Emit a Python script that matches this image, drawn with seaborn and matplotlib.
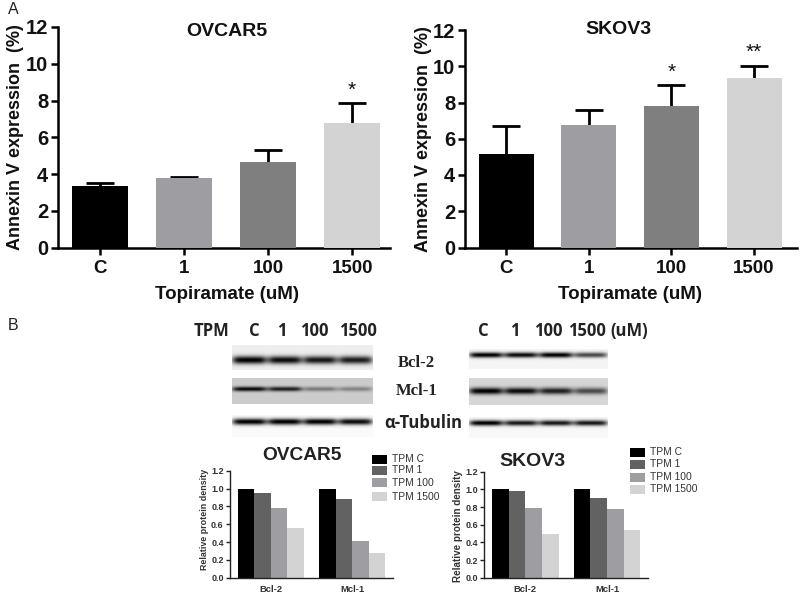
import numpy as np
import pandas as pd
import matplotlib
matplotlib.use("Agg")
import matplotlib.pyplot as plt
import seaborn as sns

sns.set_theme(style="ticks")
plt.rcParams['font.family'] = ['Liberation Sans', 'DejaVu Sans']

W, H = 800, 597

doses = ["C", "1", "100", "1500"]
bar_colors = ["#000000", "#9e9ea2", "#7f7f7f", "#d3d3d3"]
ovcar_annexin = [3.35, 3.77, 4.65, 6.78]
ovcar_err = [0.17, 0.09, 0.63, 1.06]
skov_annexin = [5.15, 6.76, 7.79, 9.35]
skov_err = [1.53, 0.84, 1.16, 0.68]
ovcar_stars = ["", "", "", "*"]
skov_stars = ["", "", "*", "**"]

groups = ["Bcl-2", "Mcl-1"]
tpm_labels = ["TPM C", "TPM 1", "TPM 100", "TPM 1500"]
tpm_colors = ["#000000", "#626262", "#9e9ea2", "#d3d3d3"]
ovcar_bcl = [1.0, 0.945, 0.785, 0.553]
ovcar_mcl = [1.0, 0.878, 0.415, 0.273]
skov_bcl = [1.0, 0.98, 0.785, 0.498]
skov_mcl = [1.0, 0.906, 0.774, 0.54]

# band strengths, lanes C, 1, 100, 1500
blot_left_bcl = [1.0, 0.95, 0.9, 0.88]
blot_left_mcl = [0.95, 0.85, 0.4, 0.35]
blot_left_tub = [1.0, 1.0, 1.0, 0.95]
blot_right_bcl = [1.0, 0.95, 1.0, 0.7]
blot_right_mcl = [1.0, 0.95, 0.85, 0.65]
blot_right_tub = [1.0, 0.9, 0.9, 0.9]


def box(x0, y0, x1, y1):
    return [x0 / W, 1 - y1 / H, (x1 - x0) / W, (y1 - y0) / H]


fig = plt.figure(figsize=(W / 100, H / 100), dpi=100, facecolor="white")


def big_panel(rect, title, vals, errs, stars, title_xy, xlim, ylabel_x, xlabel_x):
    ax = fig.add_axes(box(*rect))
    df = pd.DataFrame({"dose": doses, "v": vals})
    sns.barplot(data=df, x="dose", y="v", hue="dose", palette=bar_colors, legend=False,
                width=0.667, saturation=1, ax=ax, zorder=3, linewidth=0)
    cont = ax.errorbar(range(4), vals, yerr=[[0] * 4, errs], fmt="none", ecolor="black",
                       elinewidth=2, capsize=10, capthick=2, zorder=2)
    cont[1][0].set_visible(False)
    for i, s in enumerate(stars):
        if s:
            ax.text(i, vals[i] + errs[i] + 0.2, s, ha="center", va="bottom",
                    fontsize=15, color="#111111")
    ax.set_xlim(*xlim)
    ax.set_ylim(0, 12)
    ax.set_yticks(range(0, 13, 2))
    ax.set_xlabel("Topiramate (uM)", fontsize=13.5, fontweight="bold", color="#111111")
    ax.xaxis.set_label_coords((xlabel_x - rect[0]) / (rect[2] - rect[0]), -0.175)
    ax.set_ylabel("Annexin V expression  (%)", fontsize=13, fontweight="bold", color="#111111")
    ax.yaxis.set_label_coords((ylabel_x - rect[0]) / (rect[2] - rect[0]), 0.5)
    ax.tick_params(axis="x", width=1.8, length=5, labelsize=13.5, color="black",
                   labelcolor="#111111", pad=4)
    ax.tick_params(axis="y", width=1.8, length=5, labelsize=14.5, color="black",
                   labelcolor="#111111", pad=2)
    for lab in ax.get_xticklabels() + ax.get_yticklabels():
        lab.set_fontweight("bold")
    for sp in ("top", "right"):
        ax.spines[sp].set_visible(False)
    for sp in ("left", "bottom"):
        ax.spines[sp].set_linewidth(1.8)
        ax.spines[sp].set_color("black")
    fig.text(title_xy[0] / W, 1 - title_xy[1] / H, title, ha="center", va="center", fontsize=14,
             fontweight="bold", color="#111111")


big_panel((58, 27, 390, 247.5), "OVCAR5", ovcar_annexin, ovcar_err, ovcar_stars, (227, 31),
          (-0.5, 3.45), 24, 227)
big_panel((465, 30, 797, 247.5), "SKOV3", skov_annexin, skov_err, skov_stars, (618, 30),
          (-0.5, 3.52), 432, 630)


def small_panel(rect, title, bcl, mcl, title_xy, leg_x, leg_ys, label_y, label_size):
    ax = fig.add_axes(box(*rect))
    df = pd.DataFrame({
        "group": np.repeat(groups, 4),
        "tpm": tpm_labels * 2,
        "v": list(bcl) + list(mcl),
    })
    sns.barplot(data=df, x="group", y="v", hue="tpm", palette=tpm_colors, saturation=1,
                width=0.815, gap=0, ax=ax, legend=False, linewidth=0)
    ax.set_xlim(-0.5, 1.5)
    ax.set_ylim(0, 1.2)
    ticks = np.arange(0, 1.21, 0.2)
    ax.set_yticks(ticks)
    ax.set_yticklabels([f"{t:.1f}" for t in ticks])
    ax.set_xlabel("")
    ax.set_ylabel("Relative protein density", fontsize=label_size, fontweight="bold",
                  color="#333333")
    ax.yaxis.set_label_coords(-21 / (rect[2] - rect[0]), label_y)
    ax.tick_params(axis="y", width=1, length=3, labelsize=6.5, pad=1.5, color="#222222",
                   labelcolor="#333333")
    ax.tick_params(axis="x", length=0, labelsize=6.8, pad=5, labelcolor="#333333")
    for lab in ax.get_xticklabels() + ax.get_yticklabels():
        lab.set_fontweight("bold")
    for sp in ("top", "right"):
        ax.spines[sp].set_visible(False)
    for sp in ("left", "bottom"):
        ax.spines[sp].set_linewidth(1)
        ax.spines[sp].set_color("#222222")
    fig.text(title_xy[0] / W, 1 - title_xy[1] / H, title, ha="center", va="center",
             fontsize=title_xy[2], fontweight="bold", color="#222222")
    for lab, col, y in zip(tpm_labels, tpm_colors, leg_ys):
        fig.patches.append(plt.Rectangle((leg_x / W, 1 - (y + 4.5) / H), 14.5 / W, 9 / H,
                                         transform=fig.transFigure, facecolor=col,
                                         edgecolor="none"))
        fig.text((leg_x + 19.5) / W, 1 - y / H, lab, ha="left", va="center", fontsize=7.4,
                 color="#333333")


small_panel((230, 470.7, 393, 577.7), "OVCAR5", ovcar_bcl, ovcar_mcl, (301.7, 455, 13.8), 372,
            (459.5, 470, 482.5, 496.5), 0.54, 6.4)
small_panel((484.3, 471.7, 648, 577.7), "SKOV3", skov_bcl, skov_mcl, (532.7, 461.7, 14), 630,
            (452, 464, 477, 489), 0.49, 7.1)


def blot(rect, strengths, band_y, band_h, bg):
    x0, y0, x1, y1 = rect
    nx, ny = int(x1 - x0), int(y1 - y0)
    xs = (np.arange(nx) + 0.5) / nx
    ys = y0 + np.arange(ny) + 0.5
    img = np.full((ny, nx), float(bg))
    for i, s in enumerate(strengths):
        cx = (i + 0.5) / 4
        lane = np.exp(-((xs - cx) / 0.122) ** 6)
        band = np.exp(-((ys - band_y) / band_h) ** 2)
        img -= np.outer(band, lane) * s * bg
    ax = fig.add_axes(box(*rect))
    ax.imshow(np.clip(img, 0, 1), cmap="gray", vmin=0, vmax=1, aspect="auto",
              interpolation="bilinear")
    ax.axis("off")


blot((232, 345, 373, 370), blot_left_bcl, 360, 4.0, 0.93)
blot((232, 378, 373, 404), blot_left_mcl, 389, 2.4, 0.8)
blot((232, 415, 373, 437), blot_left_tub, 421.7, 3.2, 0.98)
blot((469, 349, 608, 369), blot_right_bcl, 355, 2.7, 0.96)
blot((469, 378, 608, 405), blot_right_mcl, 391, 3.4, 0.84)
blot((469, 417, 608, 438), blot_right_tub, 423, 2.8, 0.97)

# header and row labels of the blots
hdr = dict(fontsize=12, fontweight="bold", color="#222222", ha="center", va="center",
           family=["Open Sans", "DejaVu Sans"])
for x, t in [(212, "TPM"), (254, "C"), (281.7, "1"), (314, "100"), (358, "1500"),
             (483, "C"), (515, "1"), (548, "100"), (587, "1500"), (629, "(uM)")]:
    fig.text(x / W, 1 - 330.7 / H, t, **hdr)
for y, t in [(363, "Bcl-2"), (390.7, "Mcl-1")]:
    fig.text(416.5 / W, 1 - y / H, t, ha="center", va="center", fontsize=12, fontweight="bold",
             family=["Liberation Serif", "DejaVu Serif"], color="#222222")
fig.text(423 / W, 1 - 422.7 / H, "α-Tubulin", ha="center", va="center", fontsize=12,
         fontweight="bold", family=["Open Sans", "DejaVu Sans"], color="#222222")

fig.text(8 / W, 1 - 9.5 / H, "A", ha="left", va="center", fontsize=11.5, color="#222222")
fig.text(8 / W, 1 - 326 / H, "B", ha="left", va="center", fontsize=11.5, color="#222222")

fig.savefig("out.png", dpi=100, facecolor="white")
